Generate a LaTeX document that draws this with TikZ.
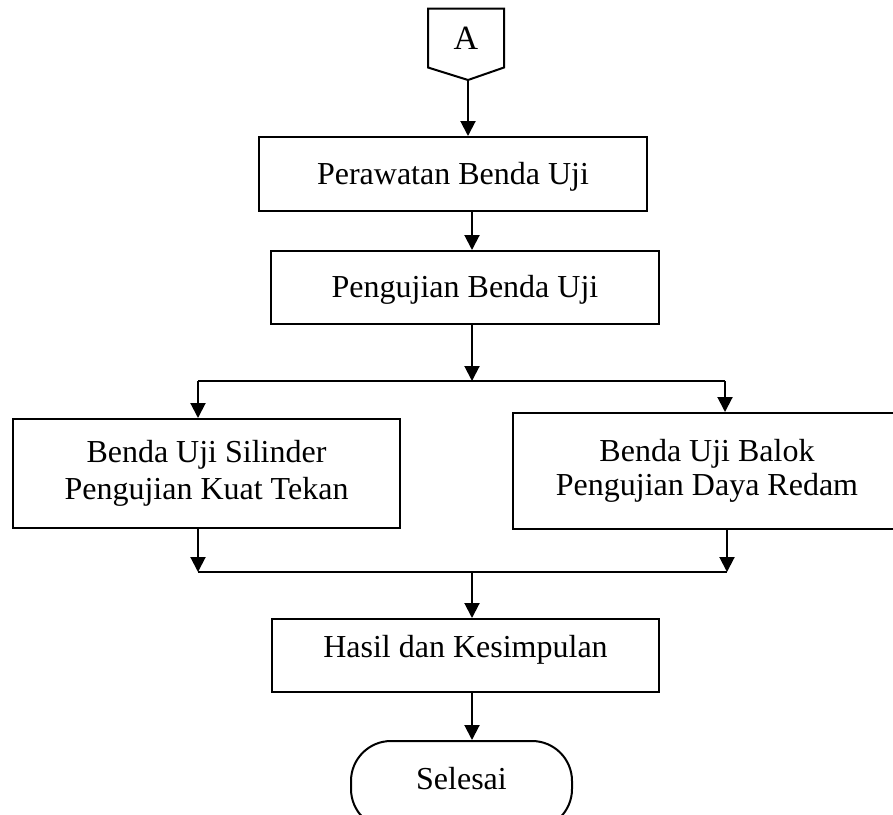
\documentclass[tikz,border=0pt]{standalone}
\usepackage{fontspec}
\setmainfont{Liberation Serif}
\usetikzlibrary{arrows.meta}

\begin{document}
\begin{tikzpicture}[x=1pt,y=-1pt,line width=2pt,>={Triangle[length=15pt,width=15pt]},
  font=\fontsize{32}{37}\selectfont,
  box/.style={draw,rectangle,inner sep=0pt,align=center},
  onebox/.style={box,text height=27.5pt,text depth=6.7pt},
  term/.style={draw,rectangle,rounded corners=40pt,inner sep=0pt}]
  \clip (0,0) rectangle (893,814);

  % konektor halaman A
  \node[inner sep=0pt,minimum width=74pt,minimum height=57pt,font=\fontsize{34}{40}\selectfont] (A) at (466,38) {A};
  \draw (A.north west) -- (A.north east) -- (A.south east)
    -- (468,80) coordinate (Atip) -- (A.south west) -- cycle;

  % kotak proses
  \node[onebox,minimum width=388pt,minimum height=74pt] (rawat) at (453,174) {Perawatan Benda Uji};
  \node[onebox,minimum width=388pt,minimum height=73pt] (uji) at (465,287.5) {Pengujian Benda Uji};
  \node[box,minimum width=387pt,minimum height=109pt] (silinder) at (206.5,473.5)
    {Benda Uji Silinder\\Pengujian Kuat Tekan};
  \node[box,minimum width=388pt,minimum height=116pt,font=\fontsize{32}{34}\selectfont] (balok) at (707,471)
    {Benda Uji Balok\\Pengujian Daya Redam};
  \node[box,text height=22pt,text depth=19pt,minimum width=387pt,minimum height=73pt] (hasil) at (465.5,655.5)
    {Hasil dan Kesimpulan};
  \node[term,text height=22pt,text depth=14pt,minimum width=221pt,minimum height=88pt] (selesai) at (461.5,785)
    {Selesai};

  % titik cabang dan gabung
  \coordinate (bagi) at (472,381);
  \coordinate (bagiL) at (198,381);
  \coordinate (bagiR) at (725,381);
  \coordinate (gabung) at (472,572);
  \coordinate (gabungL) at (198,572);
  \coordinate (gabungR) at (727,572);

  % alur
  \draw[->] (Atip) -- (Atip |- rawat.north);
  \draw[->] (rawat.south -| bagi) -- (uji.north -| bagi);
  \draw[->] (uji.south -| bagi) -- (bagi);
  \draw (bagiL) -- (bagiR);
  \draw[->] (bagiL) -- (bagiL |- silinder.north);
  \draw[->] (bagiR) -- (bagiR |- balok.north);
  \draw[->] (silinder.south -| gabungL) -- (gabungL);
  \draw[->] (balok.south -| gabungR) -- (gabungR);
  \draw (gabungL) -- (gabungR);
  \draw[->] (gabung) -- (gabung |- hasil.north);
  \draw[->] (hasil.south -| gabung) -- (gabung |- selesai.north);
\end{tikzpicture}
\end{document}
